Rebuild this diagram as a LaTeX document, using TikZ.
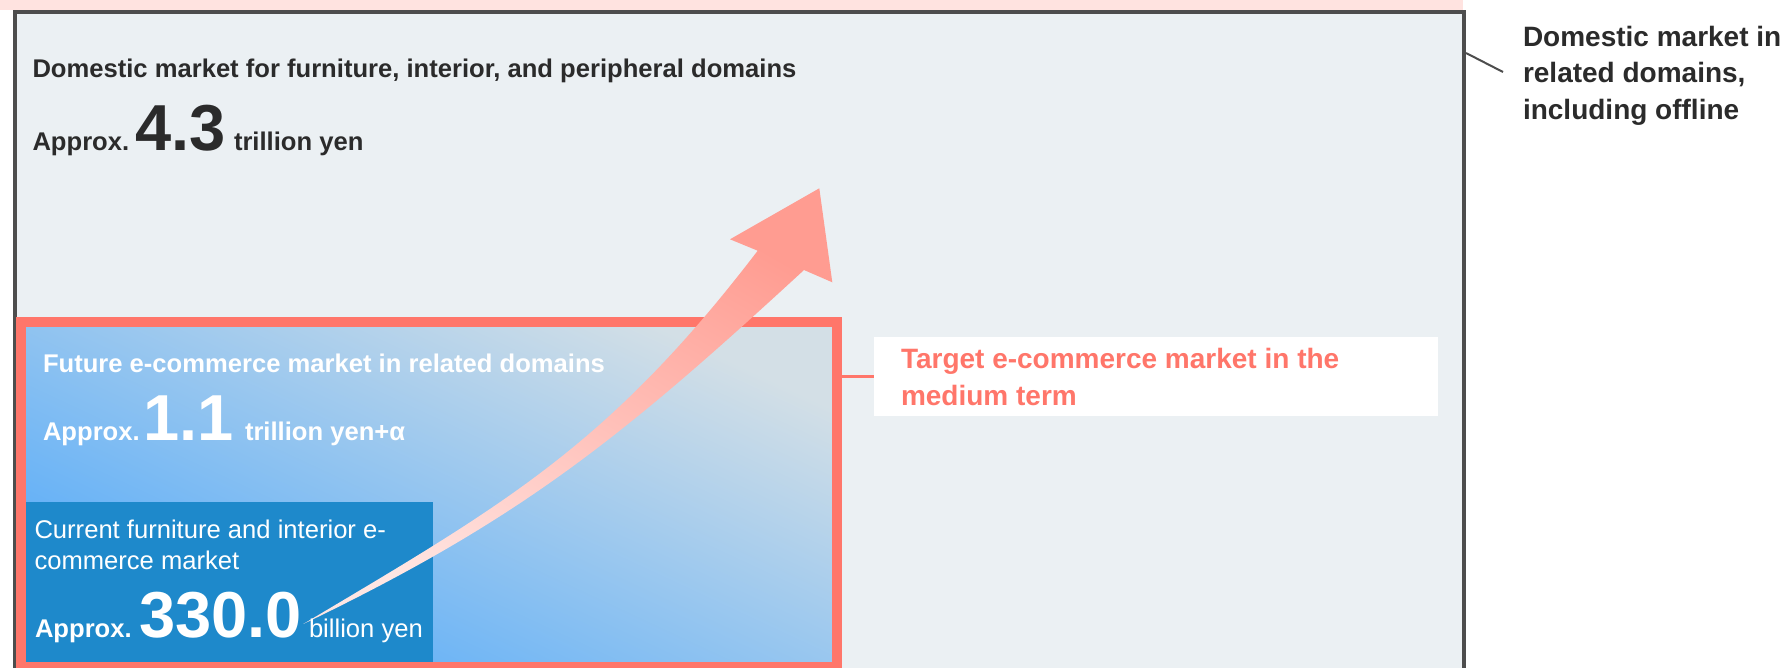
\documentclass[tikz,border=0pt]{standalone}
\usepackage{fontspec}
\setmainfont{Liberation Sans}
\definecolor{bandpink}{HTML}{FFE3E0}
\definecolor{panelfill}{HTML}{EBF0F3}
\definecolor{panelline}{HTML}{4D4D4D}
\definecolor{salmon}{HTML}{FF766A}
\definecolor{deepblue}{HTML}{1E89CB}
\definecolor{skyblue}{HTML}{56ABF9}
\definecolor{mistblue}{HTML}{D3DFE6}
\definecolor{inkdark}{HTML}{2B2B2B}
\definecolor{arrowpale}{HTML}{FFE6E3}
\definecolor{arrowdeep}{HTML}{FF9C91}
\tikzset{
  txt/.style={anchor=base west, inner sep=0pt, outer sep=0pt},
  body/.style={txt, font=\fontsize{25.6}{30}\selectfont},
  bodybold/.style={txt, font=\bfseries\fontsize{25.6}{30}\selectfont},
  bignum/.style={txt, font=\bfseries\fontsize{65}{70}\selectfont},
  callout/.style={txt, font=\bfseries\fontsize{28}{32}\selectfont},
}
\begin{document}
\begin{tikzpicture}[x=1pt, y=-1pt]
\useasboundingbox (0,0) rectangle (1783,667);
\clip (0,0) rectangle (1783,667);

% pink strip along the top edge
\fill[bandpink] (0,0) rectangle (1463,10);

% outer panel: whole domestic market
\filldraw[fill=panelfill, draw=panelline, line width=4pt] (15,11.5) rectangle (1463.5,672);

% gradient area of the medium-term target
\shade[bottom color=skyblue, top color=mistblue, shading angle=-25] (16,318) rectangle (832,663);

% current e-commerce market
\fill[deepblue] (21,502) rectangle (433,665);

% red frame of the target market
\node[draw=salmon, line width=10pt, inner sep=0pt, minimum width=816pt, minimum height=345pt, anchor=north west] (target) at (16,317) {};

% growth arrow
\shade[bottom color=arrowpale, top color=arrowdeep, shading angle=-30]
  (303.3,624) .. controls (503,505) and (607.7,447) .. (757.7,250.7)
  -- (730,239.3) -- (819.3,188.3) -- (832.3,282.3) -- (804,270)
  .. controls (624,435.6) and (523,518.3) .. (303.3,624) -- cycle;

% texts of the outer panel
\node[bodybold, text=inkdark] (domtitle) at (32.5,77.5) {Domestic market for furniture, interior, and peripheral domains};
\node[bodybold, text=inkdark] (domapprox) at (32.5,150) {Approx.};
\node[bignum, text=inkdark] (domnum) at (135,150) {4.3};
\node[bodybold, text=inkdark] (domunit) at (234,150) {trillion yen};

% texts of the target area
\node[bodybold, text=white] (futtitle) at (43,372) {Future e-commerce market in related domains};
\node[bodybold, text=white] (futapprox) at (43,440) {Approx.};
\node[bignum, text=white] (futnum) at (143.5,440) {1.1};
\node[bodybold, text=white] (futunit) at (245,440) {trillion yen+α};

% texts of the current market
\node[body, text=white] (curlineA) at (34.5,538) {Current furniture and interior e-};
\node[body, text=white] (curlineB) at (34.5,569.5) {commerce market};
\node[bodybold, text=white] (curapprox) at (35,637) {Approx.};
\node[bignum, text=white] (curnum) at (139,637) {330.0};
\node[body, text=white] (curunit) at (309,637) {billion yen};

% label of the target market
\node[fill=white, inner sep=0pt, minimum width=564pt, minimum height=79pt, anchor=north west] (tlabel) at (874,337) {};
\draw[salmon, line width=3pt] (target.east |- 0,376) -- (tlabel.west |- 0,376);
\node[callout, text=salmon] (tlineA) at (901,368) {Target e-commerce market in the};
\node[callout, text=salmon] (tlineB) at (901,405) {medium term};

% label of the outer panel
\node[callout, text=inkdark] (plineA) at (1523,46) {Domestic market in};
\node[callout, text=inkdark] (plineB) at (1523,82.5) {related domains,};
\node[callout, text=inkdark] (plineC) at (1523,119) {including offline};
\coordinate (panelpt) at (1466,53);
\coordinate (labelpt) at (1503,72);
\draw[panelline, line width=2pt] (panelpt) -- (labelpt);
\end{tikzpicture}
\end{document}
